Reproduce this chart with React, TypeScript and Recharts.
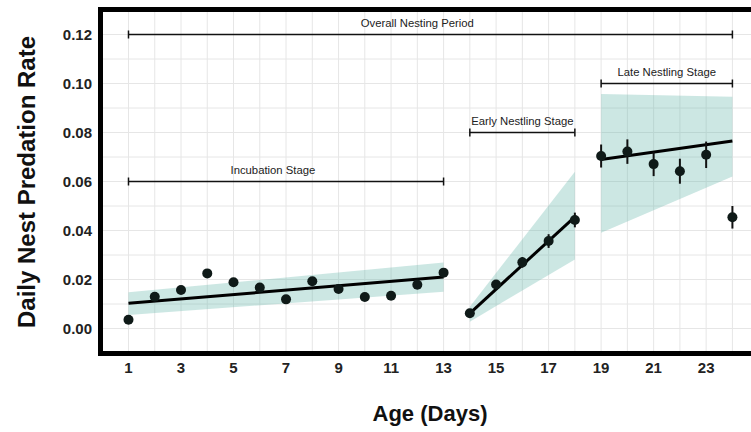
import React from "react";
import {
  ComposedChart,
  XAxis,
  YAxis,
  CartesianGrid,
  Area,
  Line,
  Scatter,
  ErrorBar,
  ReferenceLine,
} from "recharts";

// observed daily predation rate by nest age
const days = [1, 2, 3, 4, 5, 6, 7, 8, 9, 10, 11, 12, 13, 14, 15, 16, 17, 18, 19, 20, 21, 22, 23, 24];
const rates = [
  0.0036, 0.013, 0.0157, 0.0225, 0.0189, 0.0167, 0.0119, 0.0193, 0.0161, 0.0129, 0.0134, 0.0179,
  0.0228, 0.0062, 0.018, 0.027, 0.0357, 0.0443, 0.0704, 0.0722, 0.0671, 0.0642, 0.0709, 0.0454,
];
const rateErrors = [
  0.0008, 0.001, 0.001, 0.0016, 0.001, 0.001, 0.001, 0.0012, 0.001, 0.001, 0.001, 0.0012,
  0.0013, 0.0008, 0.0012, 0.0022, 0.0028, 0.003, 0.0047, 0.005, 0.0049, 0.0051, 0.0054, 0.0046,
];

// fitted trend per stage (start day, end day)
const incubationDays = [1, 13];
const incubationFit = [0.0103, 0.021];
const incubationLow = [0.0055, 0.015];
const incubationHigh = [0.0148, 0.0269];

const earlyDays = [14, 18];
const earlyFit = [0.0062, 0.0456];
const earlyLow = [0.0028, 0.0282];
const earlyHigh = [0.0089, 0.064];

const lateDays = [19, 24];
const lateFit = [0.069, 0.0765];
const lateLow = [0.0391, 0.062];
const lateHigh = [0.0957, 0.0946];

// stage brackets
const stageLabels = ["Overall Nesting Period", "Incubation Stage", "Early Nestling Stage", "Late Nestling Stage"];
const stageStart = [1, 1, 14, 19];
const stageEnd = [24, 13, 18, 24];
const stageLevel = [0.12, 0.06, 0.08, 0.1];
const stageLabelDay = [12, 6.5, 16, 21.5];

const xTicks = [1, 3, 5, 7, 9, 11, 13, 15, 17, 19, 21, 23];
const yTicks = [0, 0.02, 0.04, 0.06, 0.08, 0.1, 0.12];
const xGrid = [0, 1, 2, 3, 4, 5, 6, 7, 8, 9, 10, 11, 12, 13, 14, 15, 16, 17, 18, 19, 20, 21, 22, 23, 24, 25];
const yGrid = [-0.01, 0, 0.01, 0.02, 0.03, 0.04, 0.05, 0.06, 0.07, 0.08, 0.09, 0.1, 0.11, 0.12, 0.13];

const data = days.map((day, i) => {
  const row: Record<string, any> = { day, rate: rates[i], err: rateErrors[i] };
  const a = incubationDays.indexOf(day);
  if (a >= 0) {
    row.incFit = incubationFit[a];
    row.incBand = [incubationLow[a], incubationHigh[a]];
  }
  const b = earlyDays.indexOf(day);
  if (b >= 0) {
    row.earlyFit = earlyFit[b];
    row.earlyBand = [earlyLow[b], earlyHigh[b]];
  }
  const c = lateDays.indexOf(day);
  if (c >= 0) {
    row.lateFit = lateFit[c];
    row.lateBand = [lateLow[c], lateHigh[c]];
  }
  return row;
});

const FONT = "'Liberation Sans', Arial, sans-serif";
const BAND = "#5fb3a9";

function Bracket(label: string, labelDay: number, start: number, end: number) {
  return (p: any) => {
    const { x1, x2, y1 } = p;
    const perDay = (x2 - x1) / (end - start);
    const tx = x1 + (labelDay - start) * perDay;
    return (
      <g>
        <line x1={x1} x2={x2} y1={y1} y2={y1} stroke="#111" strokeWidth={1.5} />
        <line x1={x1} x2={x1} y1={y1 - 4} y2={y1 + 4} stroke="#111" strokeWidth={1.5} />
        <line x1={x2} x2={x2} y1={y1 - 4} y2={y1 + 4} stroke="#111" strokeWidth={1.5} />
        <text x={tx} y={y1 - 8} textAnchor="middle" fontSize={11.3} fill="#222" fontFamily={FONT}>
          {label}
        </text>
      </g>
    );
  };
}

const dot = (p: any) => <circle cx={p.cx} cy={p.cy} r={5} fill="#0f1a18" />;

export default function App() {
  return (
    <div
      style={{
        position: "absolute",
        left: 0,
        top: 0,
        width: 751,
        height: 432,
        overflow: "hidden",
        background: "#fff",
        fontFamily: FONT,
      }}
    >
      <ComposedChart
        width={775}
        height={432}
        data={data}
        margin={{ top: 10, right: 12, bottom: 48, left: 40 }}
      >
        <CartesianGrid
          stroke="#e6e6e6"
          strokeWidth={1}
          verticalValues={xGrid}
          horizontalValues={yGrid}
        />
        <XAxis
          dataKey="day"
          type="number"
          domain={[-0.085, 25.165]}
          ticks={xTicks}
          height={30}
          axisLine={false}
          tickLine={false}
          tick={{ fill: "#222", fontSize: 15, fontWeight: 700, fontFamily: FONT }}
          allowDataOverflow
        />
        <YAxis
          type="number"
          domain={[-0.0104, 0.13]}
          ticks={yTicks}
          width={60}
          axisLine={false}
          tickLine={false}
          tickFormatter={(v: number) => v.toFixed(2)}
          tick={{ fill: "#222", fontSize: 15, fontWeight: 700, fontFamily: FONT }}
          allowDataOverflow
        />
        <Area dataKey="incBand" type="linear" stroke="none" fill={BAND} fillOpacity={0.32} connectNulls isAnimationActive={false} />
        <Area dataKey="earlyBand" type="linear" stroke="none" fill={BAND} fillOpacity={0.32} connectNulls isAnimationActive={false} />
        <Area dataKey="lateBand" type="linear" stroke="none" fill={BAND} fillOpacity={0.32} connectNulls isAnimationActive={false} />
        <Line dataKey="incFit" type="linear" stroke="#000" strokeWidth={3} dot={false} connectNulls isAnimationActive={false} />
        <Line dataKey="earlyFit" type="linear" stroke="#000" strokeWidth={3} dot={false} connectNulls isAnimationActive={false} />
        <Line dataKey="lateFit" type="linear" stroke="#000" strokeWidth={3} dot={false} connectNulls isAnimationActive={false} />
        <Scatter dataKey="rate" shape={dot} isAnimationActive={false}>
          <ErrorBar dataKey="err" direction="y" width={0} stroke="#111" strokeWidth={2} />
        </Scatter>
        {stageLabels.map((label, i) => (
          <ReferenceLine
            key={label}
            segment={[
              { x: stageStart[i], y: stageLevel[i] },
              { x: stageEnd[i], y: stageLevel[i] },
            ]}
            shape={Bracket(label, stageLabelDay[i], stageStart[i], stageEnd[i])}
          />
        ))}
      </ComposedChart>
      <div
        style={{
          position: "absolute",
          left: 98,
          top: 7,
          width: 670,
          height: 349,
          boxSizing: "border-box",
          border: "5px solid #000",
          pointerEvents: "none",
        }}
      />
      <div
        style={{
          position: "absolute",
          left: 27,
          top: 182,
          transform: "translate(-50%, -50%) rotate(-90deg)",
          whiteSpace: "nowrap",
          fontSize: 24,
          fontWeight: 700,
          color: "#111",
        }}
      >
        Daily Nest Predation Rate
      </div>
      <div
        style={{
          position: "absolute",
          left: 430,
          top: 414,
          transform: "translate(-50%, -50%)",
          whiteSpace: "nowrap",
          fontSize: 22,
          fontWeight: 700,
          color: "#111",
        }}
      >
        Age (Days)
      </div>
    </div>
  );
}
